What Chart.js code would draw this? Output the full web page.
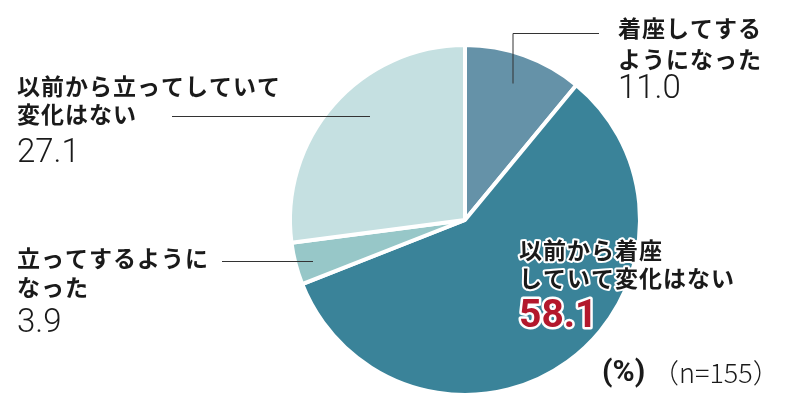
<!DOCTYPE html>
<html><head><meta charset="utf-8">
<script src="https://cdn.jsdelivr.net/npm/chart.js@4.4.1/dist/chart.umd.min.js"></script>
<style>html,body{margin:0;padding:0;background:#fff}#wrap{width:800px;height:404px;position:relative}</style>
</head><body><div id="wrap"><canvas id="c"></canvas></div>
<script>
const categories = ["着座してするようになった","以前から着座していて変化はない","立ってするようになった","以前から立ってしていて変化はない"];
const values = [11.0, 58.1, 3.9, 27.1];
const colors = ["#6592a8","#3a8399","#97c7c8","#c5e0e1"];
const labelLines = [["着座してする","ようになった"],["以前から着座","していて変化はない"],["立ってするように","なった"],["以前から立ってしていて","変化はない"]];
const valueText = values.map(v => v.toFixed(1));

const JP = '"Noto Sans CJK JP", "Noto Sans", sans-serif';
const NUM = 'Roboto, "Noto Sans", sans-serif';

// annotation layout (text anchor + leader line), indices match categories
const layout = [
  {x:618, y:[28,59], vy:90, leader:[[513,83],[513,33],[599,33]]},
  {x:519, y:[250,278], vy:317, inside:true},
  {x:17, y:[258,287], vy:324, leader:[[222,261],[313,261]]},
  {x:17, y:[86,114], vy:154, leader:[[172,116],[370,116]]}
];

const annot = {
  id:'annot',
  afterDraw(chart){
    const ctx = chart.ctx;
    ctx.save();
    ctx.textBaseline = 'middle';
    ctx.textAlign = 'left';
    layout.forEach((L,i)=>{
      if (L.leader){
        ctx.beginPath();
        ctx.strokeStyle = '#333';
        ctx.lineWidth = 1;
        L.leader.forEach((p,k)=>{ if(k===0) ctx.moveTo(p[0],p[1]+0.5); else ctx.lineTo(p[0],p[1]+0.5); });
        ctx.stroke();
      }
      ctx.font = 'bold 23px ' + JP;
      ctx.letterSpacing = '1px';
      labelLines[i].forEach((t,k)=>{
        if (L.inside){
          ctx.strokeStyle = '#fff'; ctx.lineWidth = 4; ctx.lineJoin = 'round';
          ctx.strokeText(t, L.x, L.y[k]);
        }
        ctx.fillStyle = '#1a1a1a';
        ctx.fillText(t, L.x, L.y[k]);
      });
      ctx.letterSpacing = '0px';
      if (L.inside){
        ctx.font = 'bold 39px ' + NUM;
        ctx.strokeStyle = '#fff'; ctx.lineWidth = 5; ctx.lineJoin = 'round';
        ctx.strokeText(valueText[i], L.x, L.vy);
        ctx.fillStyle = '#b3182c';
        ctx.fillText(valueText[i], L.x, L.vy);
      } else {
        ctx.font = '300 33px ' + NUM;
        ctx.fillStyle = '#1a1a1a';
        ctx.fillText(valueText[i], L.x, L.vy);
      }
    });
    ctx.font = 'bold 30px ' + NUM;
    ctx.fillStyle = '#1a1a1a';
    ctx.fillText('(%)', 602, 373);
    ctx.font = '300 27px ' + JP;
    ctx.fillText('（n=155）', 652, 373);
    ctx.restore();
  }
};

new Chart(document.getElementById('c'), {
  type:'pie',
  data:{labels:categories, datasets:[{data:values, backgroundColor:colors, borderColor:'#fff', borderWidth:4, hoverOffset:0}]},
  options:{
    responsive:true, maintainAspectRatio:false, animation:false,
    layout:{padding:{left:288, right:158, top:43, bottom:7}},
    plugins:{legend:{display:false}, tooltip:{enabled:false}}
  },
  plugins:[annot]
});
</script></body></html>
